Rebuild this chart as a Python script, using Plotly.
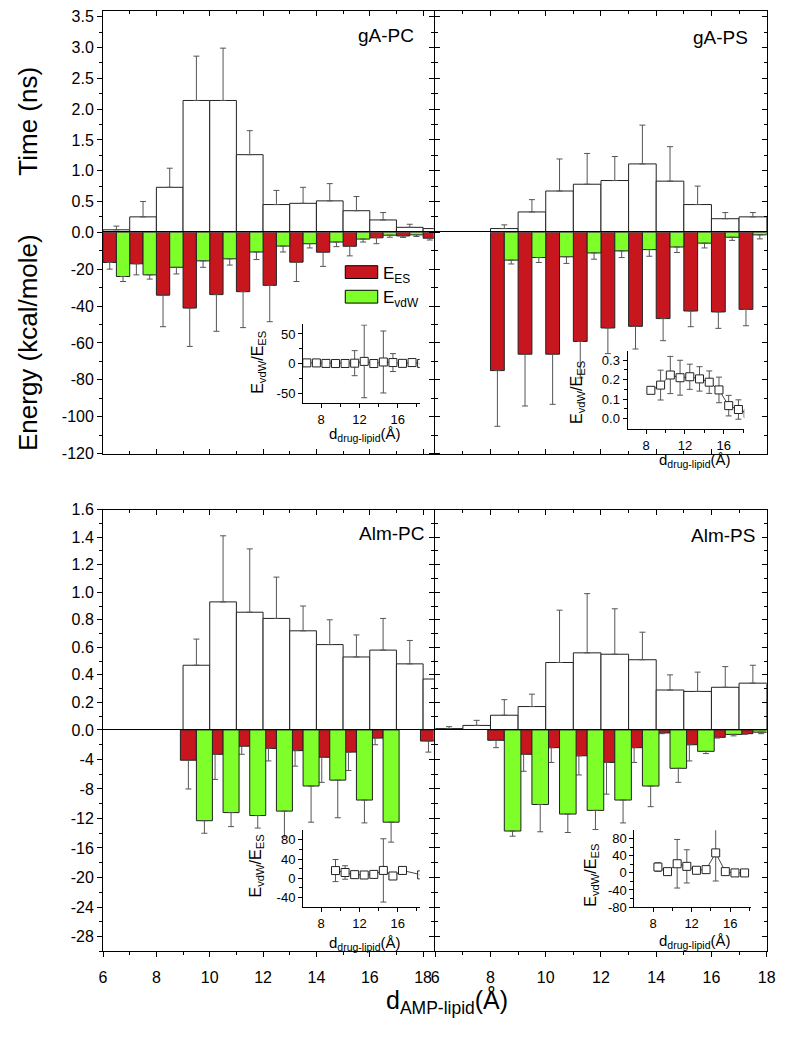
import plotly.graph_objects as go

W, H = 787, 1037
FONT = "Liberation Sans, Arial, Helvetica, sans-serif"
RED = "#C8161E"
GREEN = "#7FFF2A"

# ---------------- data ----------------
# gA-PC
gA_PC_time_bins = [6, 7, 8, 9, 10, 11, 12, 13, 14, 15, 16, 17, 18]
gA_PC_time = [0.04, 0.25, 0.73, 2.14, 2.14, 1.26, 0.45, 0.47, 0.51, 0.35, 0.20, 0.08, 0.06]
gA_PC_time_err = [0.06, 0.25, 0.31, 0.72, 0.85, 0.39, 0.23, 0.26, 0.28, 0.23, 0.12, 0.05, 0.04]
gA_PC_es_bins = [6, 7, 8, 9, 10, 11, 12, 13, 14, 15, 16, 17, 18]
gA_PC_es = [-16.4, -17.1, -34.1, -41.1, -33.8, -32.2, -28.8, -16.2, -10.8, -7.6, -3.0, -2.0, -3.2]
gA_PC_es_err = [3.6, 6.0, 17.1, 20.8, 19.9, 19.5, 19.7, 10.5, 7.7, 5.2, 3.2, 0.8, 1.0]
gA_PC_vdw_bins = [6, 7, 8, 9, 10, 11, 12, 13, 14, 15, 16, 17]
gA_PC_vdw = [-24.0, -23.1, -19.0, -15.5, -14.4, -10.7, -7.5, -6.2, -5.3, -3.7, -1.6, -1.4]
gA_PC_vdw_err = [2.7, 2.3, 3.6, 3.5, 3.4, 4.1, 3.2, 2.3, 2.5, 1.6, 1.1, 0.9]
gA_PC_ratio_x = [6.5, 7.5, 8.5, 9.5, 10.5, 11.5, 12.5, 13.5, 14.5, 15.5, 16.5, 17.5, 18.5]
gA_PC_ratio = [1.5, 1.4, 0.6, 0.4, 0.5, 1.0, 4.0, 0.4, 3.0, 2.0, 0.7, 2.0, 0.5]
gA_PC_ratio_err = [2, 2, 1, 1, 1, 21, 61, 1, 52, 15, 1, 2, 0]

# gA-PS
gA_PS_time_bins = [8, 9, 10, 11, 12, 13, 14, 15, 16, 17]
gA_PS_time = [0.06, 0.33, 0.67, 0.78, 0.84, 1.11, 0.83, 0.45, 0.22, 0.25]
gA_PS_time_err = [0.06, 0.20, 0.52, 0.50, 0.39, 0.63, 0.56, 0.30, 0.10, 0.07]
gA_PS_es_bins = [8, 9, 10, 11, 12, 13, 14, 15, 16, 17]
gA_PS_es = [-75.0, -66.1, -66.1, -59.2, -51.9, -51.0, -46.8, -42.7, -43.2, -41.8]
gA_PS_es_err = [30.2, 28.1, 27.2, 19.8, 13.9, 12.3, 12.0, 8.5, 8.9, 8.9]
gA_PS_vdw_bins = [8, 9, 10, 11, 12, 13, 14, 15, 16, 17]
gA_PS_vdw = [-15.1, -13.7, -13.3, -11.2, -10.1, -9.4, -8.0, -5.9, -2.7, -1.4]
gA_PS_vdw_err = [2.1, 2.7, 3.6, 3.4, 3.6, 3.6, 3.0, 2.6, 1.7, 2.2]
gA_PS_ratio_x = [8.5, 9.5, 10.5, 11.5, 12.5, 13.5, 14.5, 15.5, 16.5, 17.5, 18.5]
gA_PS_ratio = [0.145, 0.172, 0.224, 0.21, 0.215, 0.204, 0.187, 0.147, 0.066, 0.046, 0.025]
gA_PS_ratio_err = [0.01, 0.077, 0.096, 0.09, 0.065, 0.063, 0.058, 0.066, 0.053, 0.05, 0.0]

# Alm-PC
Alm_PC_time_bins = [9, 10, 11, 12, 13, 14, 15, 16, 17, 18]
Alm_PC_time = [0.47, 0.93, 0.855, 0.81, 0.72, 0.62, 0.53, 0.58, 0.48, 0.37]
Alm_PC_time_err = [0.19, 0.48, 0.46, 0.30, 0.18, 0.18, 0.16, 0.23, 0.17, 0.13]
Alm_PC_es_bins = [9, 10, 11, 12, 13, 14, 15, 16, 18]
Alm_PC_es = [-4.1, -3.3, -2.2, -2.5, -2.8, -3.7, -3.0, -1.1, -1.5]
Alm_PC_es_err = [3.9, 3.4, 1.1, 1.7, 2.1, 3.4, 2.5, 0.9, 1.5]
Alm_PC_vdw_bins = [9, 10, 11, 12, 13, 14, 15, 16]
Alm_PC_vdw = [-12.3, -11.2, -11.6, -11.0, -7.6, -6.8, -9.5, -12.5]
Alm_PC_vdw_err = [1.7, 1.9, 1.7, 3.5, 4.9, 5.1, 3.1, 2.7]
Alm_PC_ratio_x = [9.5, 10.5, 11.5, 12.5, 13.5, 14.5, 15.5, 16.5, 18.5]
Alm_PC_ratio = [16, 12, 7.5, 6.8, 8, 16.3, 4.7, 16.3, 7]
Alm_PC_ratio_err = [23, 14, 2, 2, 6, 66, 3, 3, 0]

# Alm-PS
Alm_PS_time_bins = [6, 7, 8, 9, 10, 11, 12, 13, 14, 15, 16, 17]
Alm_PS_time = [0.01, 0.033, 0.107, 0.17, 0.49, 0.56, 0.55, 0.51, 0.29, 0.28, 0.31, 0.34]
Alm_PS_time_err = [0.014, 0.037, 0.113, 0.09, 0.38, 0.43, 0.33, 0.20, 0.11, 0.14, 0.15, 0.13]
Alm_PS_es_bins = [8, 9, 10, 11, 12, 13, 14, 15, 16, 17]
Alm_PS_es = [-1.4, -3.3, -2.4, -3.5, -4.4, -2.4, -0.4, -2.0, -1.0, -0.5]
Alm_PS_es_err = [1.0, 2.3, 2.0, 2.6, 4.3, 2.0, 0.1, 2.2, 0.1, 0.1]
Alm_PS_vdw_bins = [8, 9, 10, 11, 12, 13, 14, 15, 16, 17]
Alm_PS_vdw = [-13.7, -10.1, -11.4, -10.9, -9.5, -7.6, -5.2, -2.9, -0.6, -0.3]
Alm_PS_vdw_err = [0.7, 3.7, 2.5, 2.6, 3.1, 2.8, 1.9, 0.3, 0.2, 0.2]
Alm_PS_ratio_x = [8.5, 9.5, 10.5, 11.5, 12.5, 13.5, 14.5, 15.5, 16.5, 17.5]
Alm_PS_ratio = [13.8, 3, 21.5, 15.4, 6.2, 7.7, 47, 3, 0, 0]
Alm_PS_ratio_err = [10, 4, 57, 39, 2, 2, 66, 3, 0, 0]

# ticks
X_MAJOR = [6, 8, 10, 12, 14, 16, 18]
X_LABELS = ["6", "8", "10", "12", "14", "16", "18"]
X_MINOR = [7, 9, 11, 13, 15, 17]
TOP_TIME_TICKS = [0.0, 0.5, 1.0, 1.5, 2.0, 2.5, 3.0, 3.5]
TOP_TIME_LABELS = ["0.0", "0.5", "1.0", "1.5", "2.0", "2.5", "3.0", "3.5"]
TOP_TIME_MINOR = [0.25, 0.75, 1.25, 1.75, 2.25, 2.75, 3.25]
TOP_E_TICKS = [-120, -100, -80, -60, -40, -20]
TOP_E_LABELS = ["-120", "-100", "-80", "-60", "-40", "-20"]
TOP_E_MINOR = [-110, -90, -70, -50, -30, -10]
BOT_TIME_TICKS = [0.0, 0.2, 0.4, 0.6, 0.8, 1.0, 1.2, 1.4, 1.6]
BOT_TIME_LABELS = ["0.0", "0.2", "0.4", "0.6", "0.8", "1.0", "1.2", "1.4", "1.6"]
BOT_TIME_MINOR = [0.1, 0.3, 0.5, 0.7, 0.9, 1.1, 1.3, 1.5]
BOT_E_TICKS = [-28, -24, -20, -16, -12, -8, -4]
BOT_E_LABELS = ["-28", "-24", "-20", "-16", "-12", "-8", "-4"]
BOT_E_MINOR = [-30, -26, -22, -18, -14, -10, -6, -2]
INS_X_TICKS = [8, 12, 16]
INS_X_MINOR = [6, 10, 14, 18]


def px(x):
    return x / W


def py(y):
    return 1 - y / H


def xr(i):
    return "x" if i == 1 else f"x{i}"


def yr(i):
    return "y" if i == 1 else f"y{i}"


def xk(i):
    return "xaxis" if i == 1 else f"xaxis{i}"


def yk(i):
    return "yaxis" if i == 1 else f"yaxis{i}"


fig = go.Figure()
layout_axes = {}


def common(fs=16):
    return dict(showgrid=False, zeroline=False, showline=True, linecolor="black",
                linewidth=1, tickcolor="black", tickwidth=1, ticklen=5,
                tickfont=dict(family=FONT, size=fs, color="black"))


def bars(x, y, plus, minus, color, width, i):
    fig.add_trace(go.Bar(
        x=x, y=y, width=width,
        marker=dict(color=color, line=dict(color="#222", width=1)),
        error_y=dict(type="data", symmetric=False, array=plus, arrayminus=minus,
                     color="#555", thickness=1, width=3),
        xaxis=xr(i), yaxis=yr(i), showlegend=False, hoverinfo="skip"))


def panel(it, ie, xdom, xrng, tdom, trng, edom, erng, tt, tl, tm, et, el, em,
          left, bottom, d, half):
    tb, tv, te = d["time"]
    bars([b + 0.5 for b in tb], tv, te, [0] * len(tv), "white", 1, it)
    rb, rv, re_ = d["es"]
    gb, gv, ge = d["vdw"]
    if half:
        ro, go_, w = 0.25, 0.75, 0.5
    else:
        ro, go_, w = 0.2, 0.8, 0.6
    bars([b + ro for b in rb], rv, [0] * len(rv), re_, RED, w, ie)
    bars([b + go_ for b in gb], gv, [0] * len(gv), ge, GREEN, w, ie)

    c = common()
    layout_axes[xk(it)] = dict(c, domain=xdom, range=xrng, anchor=yr(it), side="top",
                               ticks="inside", tickvals=X_MAJOR, showticklabels=False,
                               minor=dict(ticks="inside", ticklen=3, tickvals=X_MINOR,
                                          tickcolor="black"))
    c = common()
    layout_axes[xk(ie)] = dict(c, domain=xdom, range=xrng, anchor=yr(ie), side="bottom",
                               mirror=True, ticks="outside" if bottom else "inside",
                               tickvals=X_MAJOR, ticktext=X_LABELS,
                               showticklabels=bottom, ticklabelstandoff=7,
                               minor=dict(ticks="outside" if bottom else "inside",
                                          ticklen=3, tickvals=X_MINOR, tickcolor="black"))
    for idx, dom, rng, tv_, tl_, tm_ in ((it, tdom, trng, tt, tl, tm),
                                         (ie, edom, erng, et, el, em)):
        c = common()
        layout_axes[yk(idx)] = dict(c, domain=dom, range=rng, anchor=xr(idx), side="left",
                                    ticks="outside", mirror="ticks" if left else True,
                                    tickvals=tv_, ticktext=tl_, showticklabels=left,
                                    minor=dict(ticks="outside", ticklen=3, tickvals=tm_,
                                               tickcolor="black"))


def overlay_right(io, base, rng, tv_, tm_):
    layout_axes[yk(io)] = dict(overlaying=yr(base), anchor=xr(base), side="right",
                               range=rng, showgrid=False, zeroline=False, showline=False,
                               ticks="inside", ticklen=5, tickcolor="black", tickwidth=1,
                               tickvals=tv_, showticklabels=False,
                               minor=dict(ticks="inside", ticklen=3, tickvals=tm_,
                                          tickcolor="black"))
    fig.add_trace(go.Scatter(x=[None], y=[None], xaxis=xr(base), yaxis=yr(io),
                             showlegend=False, hoverinfo="skip", mode="markers"))


def inset(i, xdom, xrng, ydom, yrng, yt, ytl, ym, x, y, e):
    fig.add_trace(go.Scatter(
        x=x, y=y, mode="lines+markers",
        line=dict(color="#444", width=1),
        marker=dict(symbol="square", size=8, color="white",
                    line=dict(color="#222", width=1)),
        error_y=dict(type="data", array=e, color="#555", thickness=1, width=3),
        xaxis=xr(i), yaxis=yr(i), showlegend=False, hoverinfo="skip", cliponaxis=True))
    c = common(13)
    layout_axes[xk(i)] = dict(c, domain=xdom, range=xrng, anchor=yr(i), ticks="outside",
                              ticklen=4, tickvals=INS_X_TICKS, showticklabels=True,
                              minor=dict(ticks="outside", ticklen=3, tickvals=INS_X_MINOR,
                                         tickcolor="black"))
    c = common(13)
    layout_axes[yk(i)] = dict(c, domain=ydom, range=yrng, anchor=xr(i), ticks="outside",
                              ticklen=4, tickvals=yt, ticktext=ytl,
                              minor=dict(ticks="outside", ticklen=3, tickvals=ym,
                                         tickcolor="black"))


LX = [px(100.7), px(437)]
RX = [px(438.5), px(775.5)]
LRNG = [6, 18.4]
RRNG = [6, 18]
TT_DOM = [py(228), py(3)]
TE_DOM = [py(453), py(228)]
BT_DOM = [py(734), py(510)]
BE_DOM = [py(959), py(734)]
TT_RNG = [0, 3.594]
TE_RNG = [-120, 0]
BT_RNG = [0, 1.6]
BE_RNG = [-30, 0]

panel(1, 2, LX, LRNG, TT_DOM, TT_RNG, TE_DOM, TE_RNG,
      TOP_TIME_TICKS, TOP_TIME_LABELS, TOP_TIME_MINOR, TOP_E_TICKS, TOP_E_LABELS, TOP_E_MINOR,
      True, False,
      dict(time=(gA_PC_time_bins, gA_PC_time, gA_PC_time_err),
           es=(gA_PC_es_bins, gA_PC_es, gA_PC_es_err),
           vdw=(gA_PC_vdw_bins, gA_PC_vdw, gA_PC_vdw_err)), True)
panel(3, 4, RX, RRNG, TT_DOM, TT_RNG, TE_DOM, TE_RNG,
      TOP_TIME_TICKS, TOP_TIME_LABELS, TOP_TIME_MINOR, TOP_E_TICKS, TOP_E_LABELS, TOP_E_MINOR,
      False, False,
      dict(time=(gA_PS_time_bins, gA_PS_time, gA_PS_time_err),
           es=(gA_PS_es_bins, gA_PS_es, gA_PS_es_err),
           vdw=(gA_PS_vdw_bins, gA_PS_vdw, gA_PS_vdw_err)), True)
panel(5, 6, LX, LRNG, BT_DOM, BT_RNG, BE_DOM, BE_RNG,
      BOT_TIME_TICKS, BOT_TIME_LABELS, BOT_TIME_MINOR, BOT_E_TICKS, BOT_E_LABELS, BOT_E_MINOR,
      True, True,
      dict(time=(Alm_PC_time_bins, Alm_PC_time, Alm_PC_time_err),
           es=(Alm_PC_es_bins, Alm_PC_es, Alm_PC_es_err),
           vdw=(Alm_PC_vdw_bins, Alm_PC_vdw, Alm_PC_vdw_err)), False)
panel(7, 8, RX, RRNG, BT_DOM, BT_RNG, BE_DOM, BE_RNG,
      BOT_TIME_TICKS, BOT_TIME_LABELS, BOT_TIME_MINOR, BOT_E_TICKS, BOT_E_LABELS, BOT_E_MINOR,
      False, True,
      dict(time=(Alm_PS_time_bins, Alm_PS_time, Alm_PS_time_err),
           es=(Alm_PS_es_bins, Alm_PS_es, Alm_PS_es_err),
           vdw=(Alm_PS_vdw_bins, Alm_PS_vdw, Alm_PS_vdw_err)), False)

overlay_right(13, 3, TT_RNG, TOP_TIME_TICKS, TOP_TIME_MINOR)
overlay_right(14, 4, TE_RNG, TOP_E_TICKS, TOP_E_MINOR)
overlay_right(15, 7, BT_RNG, BOT_TIME_TICKS, BOT_TIME_MINOR)
overlay_right(16, 8, BE_RNG, BOT_E_TICKS, BOT_E_MINOR)

inset(9, [px(304), px(422.7)], [6.1, 18.3], [py(401.7), py(321.7)], [-66, 66],
      [-50, 0, 50], ["-50", "0", "50"], [-25, 25],
      gA_PC_ratio_x, gA_PC_ratio, gA_PC_ratio_err)
inset(10, [px(634), px(752.7)], [6.1, 18.1], [py(428.3), py(348.3)], [-0.056, 0.35],
      [0.0, 0.1, 0.2, 0.3], ["0.0", "0.1", "0.2", "0.3"], [0.05, 0.15, 0.25],
      gA_PS_ratio_x, gA_PS_ratio, gA_PS_ratio_err)
inset(11, [px(304), px(422.7)], [6.1, 18.3], [py(914), py(836)], [-60, 100],
      [-40, 0, 40, 80], ["-40", "0", "40", "80"], [-20, 20, 60],
      Alm_PC_ratio_x, Alm_PC_ratio, Alm_PC_ratio_err)
inset(12, [px(641), px(759.3)], [6.06, 18.14], [py(914), py(836)], [-80, 100],
      [-80, -40, 0, 40, 80], ["-80", "-40", "0", "40", "80"], [-60, -20, 20, 60],
      Alm_PS_ratio_x, Alm_PS_ratio, Alm_PS_ratio_err)

annotations = []


def ann(text, x, y, size, xanchor="center", yanchor="middle", angle=0):
    annotations.append(dict(text=text, x=px(x), y=py(y), xref="paper", yref="paper",
                            xanchor=xanchor, yanchor=yanchor, textangle=angle,
                            showarrow=False, font=dict(family=FONT, size=size, color="black")))


ann("Time (ns)", 25, 115, 26, angle=-90)
ann("Energy (kcal/mole)", 25, 340, 26, angle=-90)
ann("d<sub>AMP-lipid</sub>(Å)", 450, 1010, 25)
ann("gA-PC", 419, 28, 19, xanchor="right")
ann("gA-PS", 759, 30, 19, xanchor="right")
ann("Alm-PC", 429, 534, 19, xanchor="right")
ann("Alm-PS", 766, 536, 19, xanchor="right")
ann("E<sub>ES</sub>", 383, 271, 17, xanchor="left")
ann("E<sub>vdW</sub>", 383, 296, 17, xanchor="left")
for (xt, yt, xx, yx) in ((258, 360, 367, 434), (583, 391, 703, 460),
                         (257, 872, 367, 951), (597, 882, 703, 949)):
    ann("E<sub>vdW</sub>/E<sub>ES</sub>", xt, yt, 16, angle=-90)
    ann("d<sub>drug-lipid</sub>(Å)", xx, yx, 15)

shapes = [
    dict(type="rect", xref="paper", yref="paper", x0=px(347), x1=px(380),
         y0=py(275), y1=py(262), fillcolor=RED, line=dict(color="black", width=1)),
    dict(type="rect", xref="paper", yref="paper", x0=px(347), x1=px(380),
         y0=py(300), y1=py(287), fillcolor=GREEN, line=dict(color="black", width=1)),
]

fig.update_layout(
    width=W, height=H, margin=dict(l=0, r=0, t=0, b=0),
    paper_bgcolor="white", plot_bgcolor="rgba(0,0,0,0)",
    barmode="overlay", showlegend=False,
    font=dict(family=FONT, color="black"),
    annotations=annotations, shapes=shapes,
    **layout_axes,
)

fig.write_html("out.html", config={"displayModeBar": False},
               post_script="document.body.style.margin='0';document.body.style.overflow='hidden';")
